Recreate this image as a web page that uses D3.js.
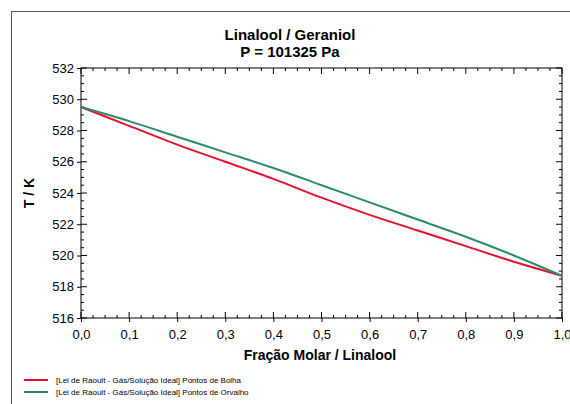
<!DOCTYPE html>
<html><head><meta charset="utf-8">
<script src="https://cdn.jsdelivr.net/npm/d3@7"></script>
<style>body{margin:0;background:#fff}svg{font-family:Arial,"Liberation Sans",sans-serif}</style>
</head><body><svg id="c" width="570" height="404"></svg>
<script>
const xFrac=[0,0.1,0.2,0.3,0.4,0.5,0.6,0.7,0.8,0.9,1.0];
const bolha=[529.5,528.3,527.1,526.0,524.9,523.7,522.6,521.6,520.6,519.6,518.7];
const orvalho=[529.5,528.6,527.6,526.6,525.6,524.5,523.4,522.3,521.2,520.0,518.7];
const series=[
 {name:"[Lei de Raoult - Gás/Solução Ideal] Pontos de Bolha",vals:bolha,color:"#e8112d"},
 {name:"[Lei de Raoult - Gás/Solução Ideal] Pontos de Orvalho",vals:orvalho,color:"#2e8b6a"}];

const svg=d3.select("#c");
svg.append("rect").attr("x",11.5).attr("y",11.5).attr("width",570).attr("height",400)
 .attr("fill","none").attr("stroke","#555");
const x=d3.scaleLinear().domain([0,1]).range([81,562]);
const y=d3.scaleLinear().domain([516,532]).range([318,68]);

svg.append("text").attr("x",290).attr("y",40).attr("text-anchor","middle").attr("font-weight","bold").attr("font-size",15).text("Linalool / Geraniol");
svg.append("text").attr("x",290).attr("y",57).attr("text-anchor","middle").attr("font-weight","bold").attr("font-size",15).text("P = 101325 Pa");

const g=svg.append("g");
g.append("rect").attr("x",81).attr("y",68).attr("width",481).attr("height",250).attr("fill","none").attr("stroke","#000");
// minor ticks
const xm=d3.range(0,1.0001,0.025), ym=d3.range(516,532.001,0.5);
g.selectAll(".xm").data(xm).join("line").attr("x1",d=>x(d)).attr("x2",d=>x(d))
 .attr("y1",318).attr("y2",d=>Math.abs(d*10-Math.round(d*10))<1e-6?312:315).attr("stroke","#000");
g.selectAll(".xm2").data(xm).join("line").attr("x1",d=>x(d)).attr("x2",d=>x(d))
 .attr("y1",68).attr("y2",d=>Math.abs(d*10-Math.round(d*10))<1e-6?74:71).attr("stroke","#000");
g.selectAll(".ym").data(ym).join("line").attr("y1",d=>y(d)).attr("y2",d=>y(d))
 .attr("x1",81).attr("x2",d=>d%2===0?87:84).attr("stroke","#000");
g.selectAll(".ym2").data(ym).join("line").attr("y1",d=>y(d)).attr("y2",d=>y(d))
 .attr("x1",562).attr("x2",d=>d%2===0?556:559).attr("stroke","#000");

const ax=g.append("g").attr("transform","translate(0,318)")
 .call(d3.axisBottom(x).tickValues(xFrac).tickSize(4).tickFormat(d=>d3.format(".1f")(d).replace(".",",")));
const ay=g.append("g").attr("transform","translate(81,0)")
 .call(d3.axisLeft(y).tickValues(d3.range(516,533,2)).tickSize(4));
[ax,ay].forEach(a=>{a.select(".domain").remove();a.selectAll("text").attr("font-size",13).attr("fill","#000").attr("font-family","Arial,'Liberation Sans',sans-serif");});
ax.selectAll("text").attr("dy","1.1em");

svg.append("text").attr("x",320).attr("y",360).attr("text-anchor","middle").attr("font-weight","bold").attr("font-size",14).text("Fração Molar / Linalool");
svg.append("text").attr("transform","translate(34,193) rotate(-90)").attr("text-anchor","middle").attr("font-weight","bold").attr("font-size",14).text("T / K");

const line=d3.line().x((d,i)=>x(xFrac[i])).y(d=>y(d)).curve(d3.curveMonotoneX);
series.forEach(s=>g.append("path").attr("d",line(s.vals)).attr("fill","none").attr("stroke",s.color).attr("stroke-width",2));

series.forEach((s,i)=>{
 const ly=380+i*12;
 svg.append("line").attr("x1",24).attr("x2",48).attr("y1",ly).attr("y2",ly).attr("stroke",s.color).attr("stroke-width",2);
 svg.append("text").attr("x",56).attr("y",ly+3).attr("font-size",8).text(s.name);
});
</script></body></html>
